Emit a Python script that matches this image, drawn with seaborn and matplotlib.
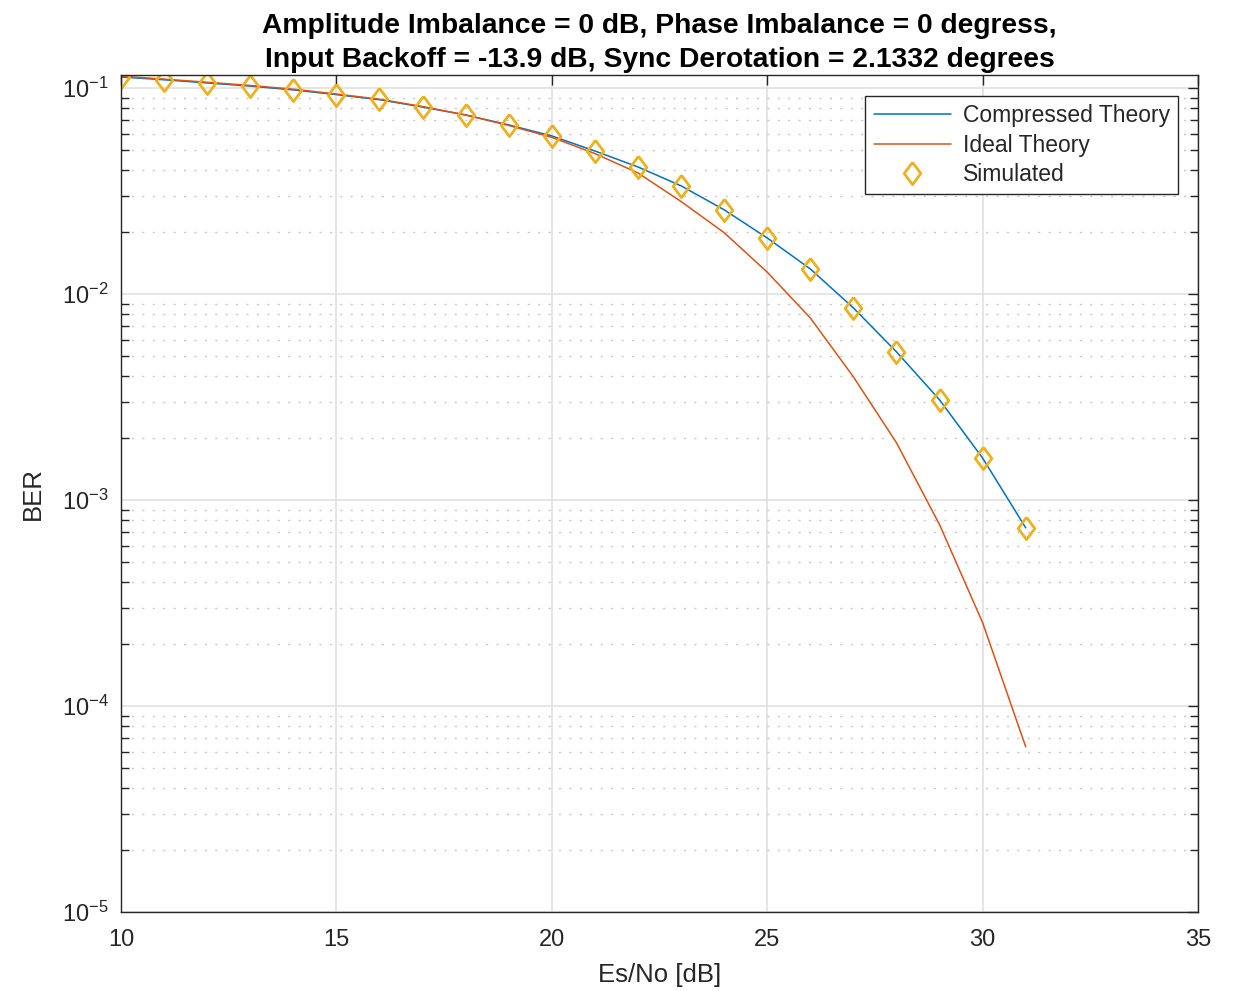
import matplotlib
matplotlib.use("Agg")
import matplotlib.pyplot as plt
import seaborn as sns
import numpy as np
import pandas as pd
from matplotlib.ticker import LogLocator, FixedLocator, NullFormatter

esno = [10, 11, 12, 13, 14, 15, 16, 17, 18, 19, 20, 21, 22, 23, 24, 25, 26, 27, 28, 29, 30, 31]
ber_compressed = [0.1135, 0.110, 0.1062, 0.1025, 0.0982, 0.0932, 0.0880, 0.0811, 0.0742, 0.0664,
                  0.0587, 0.0496, 0.0415, 0.0336, 0.0257, 0.01876, 0.01327, 0.00858, 0.00525,
                  0.00307, 0.0016, 0.000734]
ber_ideal = [0.1145, 0.1108, 0.1070, 0.1032, 0.0990, 0.0938, 0.0885, 0.0815, 0.0742, 0.0660,
             0.0578, 0.0482, 0.0388, 0.0282, 0.0199, 0.0128, 0.00767, 0.00397, 0.0019,
             0.00076, 0.000254, 6.34e-5]
ber_sim = [0.1135, 0.110, 0.1062, 0.1025, 0.0982, 0.0932, 0.0887, 0.0811, 0.0742, 0.0664,
           0.0587, 0.0496, 0.0415, 0.0336, 0.0257, 0.01876, 0.01327, 0.00858, 0.00525,
           0.00307, 0.0016, 0.000734]
xticks = [10, 15, 20, 25, 30, 35]
yticks = [1e-5, 1e-4, 1e-3, 1e-2, 1e-1]
ytick_labels = ["$10^{-5}$", "$10^{-4}$", "$10^{-3}$", "$10^{-2}$", "$10^{-1}$"]

sns.set_theme(style="white")
plt.rcParams['font.family'] = ['Liberation Sans', 'DejaVu Sans']
plt.rcParams['mathtext.fontset'] = 'custom'
plt.rcParams['mathtext.rm'] = 'Liberation Sans'
plt.rcParams['mathtext.it'] = 'Liberation Sans'
plt.rcParams['mathtext.default'] = 'regular'

df = pd.DataFrame({"esno": esno, "comp": ber_compressed, "ideal": ber_ideal, "sim": ber_sim})

diamond = [(0, 1), (0.75, 0), (0, -1), (-0.75, 0), (0, 1)]

fig = plt.figure(figsize=(12.36, 9.91), dpi=100)
ax = fig.add_axes([0.0979, 0.0797, 0.9693 - 0.0979, 0.9243 - 0.0797])

sns.lineplot(data=df, x="esno", y="comp", ax=ax, color="#0072BD", linewidth=1.1,
             label="Compressed Theory")
sns.lineplot(data=df, x="esno", y="ideal", ax=ax, color="#D95319", linewidth=1.1,
             label="Ideal Theory")
sns.lineplot(data=df, x="esno", y="sim", ax=ax, color="#EDB120", linestyle="", marker=diamond,
             markersize=16, markerfacecolor="none", markeredgecolor="#EDB120",
             markeredgewidth=2.0, label="Simulated")

ax.set_yscale("log")
ax.set_xlim(10, 35)
ax.set_ylim(1e-5, 0.116)
ax.xaxis.set_major_locator(FixedLocator(xticks))
ax.set_xticklabels([str(t) for t in xticks])
ax.yaxis.set_major_locator(FixedLocator(yticks))
ax.set_yticklabels(ytick_labels)
ax.yaxis.set_minor_locator(LogLocator(base=10, subs=np.arange(2, 10), numticks=20))
ax.yaxis.set_minor_formatter(NullFormatter())

ax.grid(True, which="major", color="#e0e0e0", linestyle="-", linewidth=1.2)
ax.grid(True, which="minor", axis="y", color="#c8c8c8", linestyle=(0, (1.5, 6)), linewidth=1.0)
ax.set_axisbelow(True)

ax.tick_params(axis="both", which="major", direction="in", length=7.5, width=1.0,
               top=True, right=True, labelsize=17, colors="#262626")
ax.tick_params(axis="x", which="major", pad=12)
ax.tick_params(axis="y", which="major", pad=9)
ax.tick_params(axis="y", which="minor", direction="in", length=6, width=1.0,
               left=True, right=True)
for s in ax.spines.values():
    s.set_color("#262626")
    s.set_linewidth(1.0)

ax.set_xlabel("Es/No [dB]", fontsize=18.5, color="#262626", labelpad=9)
ax.set_ylabel("BER", fontsize=18.5, color="#262626", labelpad=12)
ax.set_title("Amplitude Imbalance = 0 dB, Phase Imbalance = 0 degress,\n"
             "Input Backoff = -13.9 dB, Sync Derotation = 2.1332 degrees",
             fontsize=20.3, fontweight="bold", color="black", pad=6, linespacing=1.38)

leg = ax.legend(loc="upper right", bbox_to_anchor=(0.9814, 0.9753), fontsize=16.5,
                frameon=True, fancybox=False, edgecolor="#262626", framealpha=1,
                handlelength=3.4, borderpad=0.35, labelspacing=0.3, handletextpad=0.5,
                borderaxespad=0)
leg.get_frame().set_linewidth(1.0)

fig.savefig("out.png", dpi=100)
